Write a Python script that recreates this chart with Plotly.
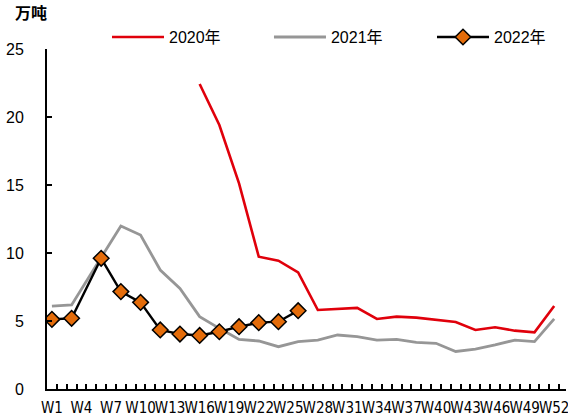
import plotly.graph_objects as go

# Weekly volume (万吨) for three years
weeks_2020 = [16, 18, 20, 22, 24, 26, 28, 30, 32, 34, 36, 38, 40, 42, 44, 46, 48, 50, 52]
vals_2020 = [22.43, 19.41, 15.12, 9.73, 9.43, 8.58, 5.81, 5.86, 5.96, 5.15, 5.32, 5.25,
             5.07, 4.93, 4.34, 4.54, 4.29, 4.17, 6.1]

weeks_2021 = [1, 3, 6, 8, 10, 12, 14, 16, 18, 20, 22, 24, 26, 28, 30, 32, 34, 36, 38,
              40, 42, 44, 46, 48, 50, 52]
vals_2021 = [6.1, 6.18, 9.67, 11.99, 11.32, 8.75, 7.4, 5.32, 4.46, 3.65, 3.53, 3.11,
             3.48, 3.6, 3.97, 3.85, 3.6, 3.65, 3.43, 3.36, 2.76, 2.94, 3.24, 3.6, 3.48, 5.16]

weeks_2022 = [1, 3, 6, 8, 10, 12, 14, 16, 18, 20, 22, 24, 26]
vals_2022 = [5.12, 5.2, 9.61, 7.16, 6.37, 4.34, 4.04, 3.94, 4.21, 4.58, 4.88, 4.95, 5.76]

tick_weeks = list(range(1, 53, 3))
tick_labels = [f"W{w}" for w in tick_weeks]
week_edges = [w + 0.5 for w in range(0, 53)]

x_range = [0.5, 53.2]

fig = go.Figure()
fig.add_trace(go.Scatter(x=weeks_2020, y=vals_2020, name="2020年", mode="lines",
                         line=dict(color="#E0000B", width=2.6), legend="legend"))
fig.add_trace(go.Scatter(x=weeks_2021, y=vals_2021, name="2021年", mode="lines",
                         line=dict(color="#969696", width=2.8), legend="legend2"))
fig.add_trace(go.Scatter(x=weeks_2022, y=vals_2022, name="2022年", mode="lines+markers",
                         line=dict(color="#000000", width=2.4),
                         marker=dict(symbol="diamond", size=12, color="#E46C0A",
                                     line=dict(color="#000000", width=1.5)),
                         legend="legend3"))
# invisible trace on the overlay axis so the weekly tick marks are drawn
fig.add_trace(go.Scatter(x=[x_range[0]], y=[0], xaxis="x2", mode="markers",
                         marker=dict(opacity=0), showlegend=False, hoverinfo="skip"))

legend_style = dict(orientation="h", xanchor="left", y=1.035, yanchor="middle",
                    font=dict(size=16), itemwidth=52, bgcolor="rgba(0,0,0,0)")

fig.update_layout(
    width=568, height=418,
    margin=dict(l=47, r=2, t=49, b=29),
    paper_bgcolor="white", plot_bgcolor="white",
    font=dict(family="Liberation Sans, Noto Sans CJK SC", size=16, color="#000000"),
    showlegend=True,
    legend=dict(x=0.1156, **legend_style),
    legend2=dict(x=0.4277, **legend_style),
    legend3=dict(x=0.7418, **legend_style),
    xaxis=dict(
        range=x_range, tickmode="array", tickvals=tick_weeks, ticktext=tick_labels,
        ticks="", showgrid=False, zeroline=False, tickangle=0, automargin=False,
        ticklabeloverflow="allow", ticklabelstandoff=4,
        showline=True, linecolor="#000000", linewidth=2,
        tickfont=dict(family="Liberation Sans Narrow, DejaVu Sans Condensed, Liberation Sans",
                      size=15),
    ),
    xaxis2=dict(
        range=x_range, overlaying="x", side="bottom", tickmode="array",
        tickvals=week_edges, ticks="inside", ticklen=5, tickwidth=1.5,
        tickcolor="#000000", showticklabels=False, showgrid=False, zeroline=False,
        showline=False,
    ),
    yaxis=dict(
        range=[0, 25], dtick=5, ticks="inside", ticklen=5, tickwidth=1.5,
        tickcolor="#000000", showgrid=False, zeroline=False, automargin=False,
        showline=True, linecolor="#000000", linewidth=2,
        ticklabelstandoff=18,
        tickfont=dict(size=16),
    ),
    annotations=[dict(text="<b>万吨</b>", xref="paper", yref="paper",
                      x=-0.065, y=1.11, xanchor="left", yanchor="middle",
                      showarrow=False, font=dict(size=16, family="Noto Sans CJK SC"))],
)

fig.write_html("out.html")
